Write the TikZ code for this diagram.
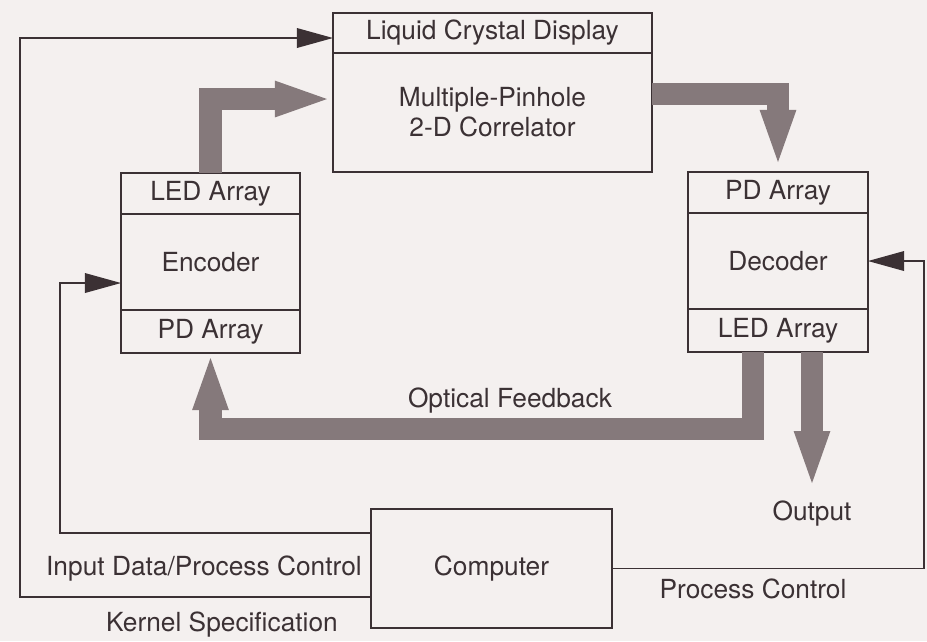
\documentclass[tikz,border=0pt]{standalone}
\usepackage{fontspec}
\setmainfont{TeX Gyre Heros}
\usetikzlibrary{arrows.meta, positioning, calc}
\definecolor{paper}{HTML}{F4F0EF}
\definecolor{ink}{HTML}{3B3134}
\definecolor{hatch}{HTML}{85797B}
\tikzset{
  box/.style={rectangle,draw=ink,line width=1.4pt,outer sep=0pt,inner sep=0pt,align=center,text=ink},
  lbl/.style={text=ink,inner sep=0pt},
  ctrl/.style={draw=ink,line width=1.4pt,-{Triangle[length=0.9cm 0,width=0.5cm 0,line width=0pt]}},
  fat/.style={draw=hatch,line width=0.55cm,-{Triangle[length=1.3cm 0,width=0.92cm 0,line width=0pt]}}
}

\begin{document}
\begin{tikzpicture}[x=0.025cm, y=-0.025cm, font=\fontsize{18.7}{21.5}\selectfont]
\fill[paper] (0,0) rectangle (927,641);
\node[box, minimum width=7.975cm, minimum height=1cm] (lcdhead) at (492.5,33) {Liquid Crystal Display};
\node[box, minimum width=7.975cm, minimum height=2.975cm, below=0pt of lcdhead] (lcdbody) {Multiple-Pinhole\\2-D Correlator};
\node[box, minimum width=4.475cm, minimum height=1.025cm] (encled) at (210.5,193.5) {LED Array};
\node[box, minimum width=4.475cm, minimum height=2.4cm, below=0pt of encled] (enc) {Encoder};
\node[box, minimum width=4.475cm, minimum height=1.075cm, below=0pt of enc] (encpd) {PD Array};
\node[box, minimum width=4.5cm, minimum height=1.025cm] (decpd) at (778,192.5) {PD Array};
\node[box, minimum width=4.5cm, minimum height=2.4cm, below=0pt of decpd] (dec) {Decoder};
\node[box, minimum width=4.5cm, minimum height=1.075cm, below=0pt of dec] (decled) {LED Array};
\node[box, minimum width=6.025cm, minimum height=2.975cm] (comp) at (491.5,568.5) {Computer};
\node[lbl, left=0.225cm of comp] (indata) {Input Data/Process Control};
\node[lbl] (kernel) at (222,625) {Kernel Specification};
\node[lbl] (proc) at (753,589) {Process Control};
\node[lbl] (fbtext) at (510,401) {Optical Feedback};
\coordinate (outx) at (20,0);
\coordinate (inx) at (60,0);
\coordinate (rightx) at (924,0);
\coordinate (lcdin) at ([yshift=-0.125cm]lcdhead.west);
\coordinate (encin) at ([yshift=-0.525cm]enc.west);
\draw[ctrl] ([yshift=-0.7125cm]comp.west) -| (outx |- lcdin) -- (lcdin);
\draw[ctrl] ([yshift=0.8875cm]comp.west) -| (inx |- encin) -- (encin);
\draw[ctrl] (comp.east) -| (rightx |- dec.east) -- (dec.east);
\draw[fat, shorten >=0.15cm] (encled.north) |- ([yshift=0.3375cm]lcdbody.west);
\draw[fat, shorten >=0.25cm] ([yshift=0.4625cm]lcdbody.east) -| (decpd.north);
\draw[fat, shorten >=0.125cm] ([xshift=-0.625cm]decled.south) -- ++(0,77) -| (encpd.south);
\draw[fat] ([xshift=0.85cm]decled.south) -- ++(0,131) coordinate (outtip);
\node[lbl, below=0.45cm of outtip] (output) {Output};
\end{tikzpicture}
\end{document}
